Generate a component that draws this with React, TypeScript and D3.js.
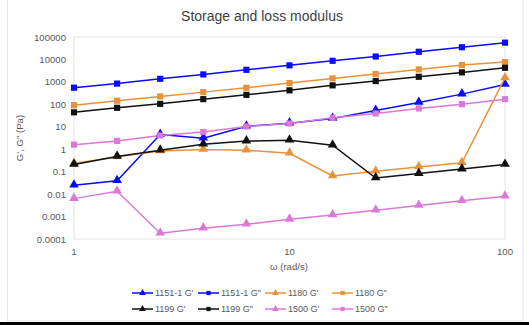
import * as d3 from 'd3';

// angular frequency, rad/s (log-spaced, 5 points per decade)
const omega = [1, 1.585, 2.512, 3.981, 6.31, 10, 15.85, 25.12, 39.81, 63.1, 100];

// moduli in Pa
const g1151Storage = [0.025, 0.039, 4.5, 3.1, 10.6, 14.5, 23.5, 53, 121, 285, 770];
const g1151Loss = [550, 840, 1370, 2150, 3450, 5450, 8700, 13500, 22000, 35000, 56000];
const g1180Storage = [0.23, 0.46, 0.84, 0.97, 0.9, 0.66, 0.064, 0.104, 0.16, 0.25, 1500];
const g1180Loss = [92, 145, 225, 350, 545, 890, 1430, 2220, 3600, 5600, 7600];
const g1199Storage = [0.21, 0.47, 0.9, 1.67, 2.3, 2.5, 1.5, 0.052, 0.082, 0.13, 0.21];
const g1199Loss = [44, 70, 105, 170, 265, 420, 700, 1090, 1690, 2650, 4250];
const g1500Storage = [0.0063, 0.0133, 0.00018, 0.0003, 0.00045, 0.00075, 0.00117, 0.0019, 0.0031, 0.0051, 0.008];
const g1500Loss = [1.6, 2.35, 4.1, 5.9, 10.3, 14, 25, 39, 66, 102, 170];

const yTicks = [100000, 10000, 1000, 100, 10, 1, 0.1, 0.01, 0.001, 0.0001];
const yTickLabels = ['100000', '10000', '1000', '100', '10', '1', '0.1', '0.01', '0.001', '0.0001'];
const xTicks = [1, 10, 100];

type Series = { name: string; values: number[]; color: string; marker: 'triangle' | 'square' };

const series: Series[] = [
  { name: "1151-1 G'", values: g1151Storage, color: '#0a0aff', marker: 'triangle' },
  { name: "1151-1 G\"", values: g1151Loss, color: '#0a0aff', marker: 'square' },
  { name: "1180 G'", values: g1180Storage, color: '#e8923a', marker: 'triangle' },
  { name: "1180 G\"", values: g1180Loss, color: '#e8923a', marker: 'square' },
  { name: "1199 G'", values: g1199Storage, color: '#111111', marker: 'triangle' },
  { name: "1199 G\"", values: g1199Loss, color: '#111111', marker: 'square' },
  { name: "1500 G'", values: g1500Storage, color: '#dc78d8', marker: 'triangle' },
  { name: "1500 G\"", values: g1500Loss, color: '#dc78d8', marker: 'square' },
];

const W = 529;
const H = 325;
const plot = { left: 74, right: 505, top: 37, bottom: 239 };
const font = 'Liberation Sans, Arial, sans-serif';
const textColor = '#595959';

const x = d3.scaleLog().domain([1, 100]).range([plot.left, plot.right]);
const y = d3.scaleLog().domain([0.0001, 100000]).range([plot.bottom, plot.top]);

const triangle = d3.symbol().type(d3.symbolTriangle).size(40);
const square = d3.symbol().type(d3.symbolSquare).size(38);
const legendTriangle = d3.symbol().type(d3.symbolTriangle).size(20);
const legendSquare = d3.symbol().type(d3.symbolSquare).size(18);

function Marker({ kind, cx, cy, color }: { kind: string; cx: number; cy: number; color: string }) {
  const path = kind === 'triangle' ? triangle() : square();
  const dy = kind === 'triangle' ? -0.5 : 0;
  return <path d={path ?? ''} transform={`translate(${cx},${cy + dy})`} fill={color} />;
}

export default function App() {
  const line = d3
    .line<number>()
    .x((_, i) => x(omega[i]))
    .y((v) => y(v));

  const legendX = [132, 198, 265, 332];
  const legendY = [293, 309];

  return (
    <svg
      width={W}
      height={H}
      style={{ position: 'absolute', left: 0, top: 0, background: '#fff' }}
      fontFamily={font}
    >
      <rect x={7.5} y={-1} width={515.5} height={322} fill="#fff" stroke="#e4e4e4" />
      <text x={262} y={21} textAnchor="middle" fontSize={14} fill="#404040">
        Storage and loss modulus
      </text>

      {/* plot frame */}
      <rect
        x={plot.left}
        y={plot.top}
        width={plot.right - plot.left}
        height={plot.bottom - plot.top}
        fill="none"
        stroke="#e3e3e3"
      />

      {yTicks.map((t, i) => (
        <text key={t} x={66} y={y(t) + 3.5} textAnchor="end" fontSize={9.6} fill={textColor}>
          {yTickLabels[i]}
        </text>
      ))}
      {xTicks.map((t) => (
        <text key={t} x={x(t)} y={255} textAnchor="middle" fontSize={9.6} fill={textColor}>
          {t}
        </text>
      ))}

      <text x={289} y={270} textAnchor="middle" fontSize={9.6} fill={textColor}>
        ω (rad/s)
      </text>
      <text
        transform="translate(23,138) rotate(-90)"
        textAnchor="middle"
        fontSize={9.6}
        fill={textColor}
      >
        G', G" (Pa)
      </text>

      {series.map((s) => (
        <g key={s.name}>
          <path d={line(s.values) ?? ''} fill="none" stroke={s.color} strokeWidth={1.5} />
          {s.values.map((v, i) => (
            <Marker key={i} kind={s.marker} cx={x(omega[i])} cy={y(v)} color={s.color} />
          ))}
        </g>
      ))}

      {series.map((s, i) => {
        const lx = legendX[i % 4];
        const ly = legendY[Math.floor(i / 4)];
        const sym = s.marker === 'triangle' ? legendTriangle() : legendSquare();
        return (
          <g key={'lg' + s.name}>
            <line x1={lx} x2={lx + 21} y1={ly} y2={ly} stroke={s.color} strokeWidth={1.5} />
            <path d={sym ?? ''} transform={`translate(${lx + 10.5},${ly})`} fill={s.color} />
            <text x={lx + 23} y={ly + 3.2} fontSize={9} fill={textColor}>
              {s.name}
            </text>
          </g>
        );
      })}

      <rect x={0} y={322} width={W} height={3} fill="#000" />
    </svg>
  );
}
